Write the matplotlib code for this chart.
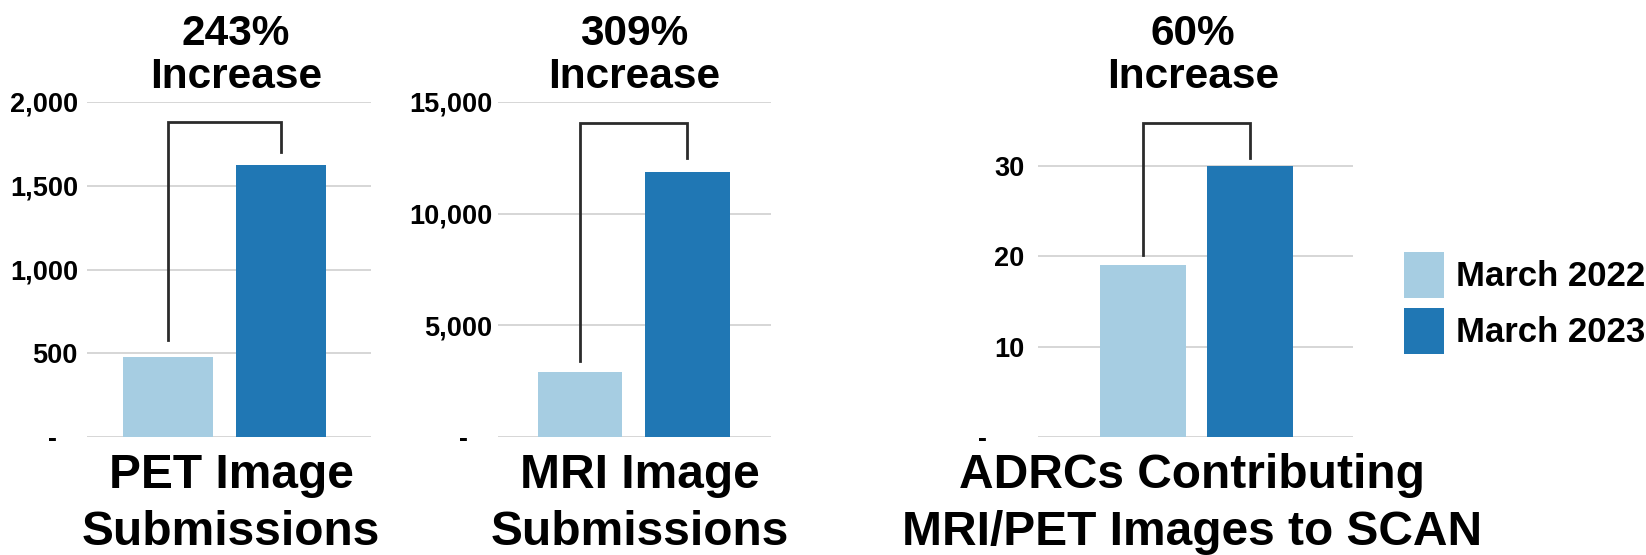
import matplotlib.pyplot as plt
from matplotlib.transforms import ScaledTranslation

plt.rcParams['font.family'] = ['Liberation Sans', 'DejaVu Sans']
plt.rcParams['font.weight'] = 'bold'

#%% data
series = ['March 2022', 'March 2023']
colors = ['#a6cde2', '#2077b4']

pet_vals = [475, 1625]
mri_vals = [2900, 11870]
adrc_vals = [19, 30]

pet_ticks = [0, 500, 1000, 1500, 2000]
pet_ticklabels = ['-', '500', '1,000', '1,500', '2,000']
mri_ticks = [0, 5000, 10000, 15000]
mri_ticklabels = ['-', '5,000', '10,000', '15,000']
adrc_ticks = [0, 10, 20, 30]
adrc_ticklabels = ['-', '10', '20', '30']

# bracket: [left leg end, top, right leg end]
pet_bracket = [580, 1878, 1703]
mri_bracket = [3400, 14060, 12510]
adrc_bracket = [20.1, 34.8, 30.9]

pct_labels = ['243%', '309%', '60%']
cat_labels = [['PET Image', 'Submissions'],
              ['MRI Image', 'Submissions'],
              ['ADRCs Contributing', 'MRI/PET Images to SCAN']]

#%% layout (pixels of a 1646 x 555 canvas)
W, H = 1646, 555
fig = plt.figure(figsize=(W / 100, H / 100), dpi=100)

bot = 1 - 437 / H
hgt = (437 - 102) / H
ax1 = fig.add_axes([87 / W, bot, 284 / W, hgt])
ax2 = fig.add_axes([498 / W, bot, 273 / W, hgt])
ax3 = fig.add_axes([1038 / W, bot, 315 / W, hgt])

panels = [
    (ax1, pet_vals, pet_ticks, pet_ticklabels, pet_bracket, (0, 2000), (-0.714, 1.789), 0.793, 6.5, 21),
    (ax2, mri_vals, mri_ticks, mri_ticklabels, mri_bracket, (0, 15000), (-0.763, 1.777), 0.786, 4.3, 24),
    (ax3, adrc_vals, adrc_ticks, adrc_ticklabels, adrc_bracket, (0, 37.09), (-0.981, 1.963), 0.80, 10, 37),
]

bars = None
for ax, vals, ticks, tlabels, br, ylim, xlim, bw, pad, dash_shift in panels:
    bars = ax.bar([0, 1], vals, width=bw, color=colors, zorder=2)
    ax.plot([0, 0, 1, 1], br[:2] + [br[1], br[2]], color='#2b2b2b', lw=2,
            zorder=3, clip_on=False, solid_joinstyle='miter')
    ax.set_ylim(*ylim)
    ax.set_xlim(*xlim)
    ax.set_yticks(ticks)
    ax.set_yticklabels(tlabels)
    ax.set_xticks([])
    ax.tick_params(axis='y', length=0, pad=pad, labelsize=19.5)
    for t in ticks:
        ax.axhline(t, color='#d3d3d3', lw=1.3, zorder=1)
    for s in ax.spines.values():
        s.set_visible(False)
    # the zero label "-" sits further left than the others
    lab = ax.get_yticklabels()[0]
    lab.set_transform(lab.get_transform() + ScaledTranslation(-dash_shift / 100, 0, fig.dpi_scale_trans))

# titles over each panel
title_x = [236, 634, 1193]
for x, pct in zip(title_x, pct_labels):
    fig.text(x / W, 1 - 45 / H, pct, ha='center', va='baseline', fontsize=30.5, fontweight='bold')
    fig.text(x / W, 1 - 88 / H, 'Increase', ha='center', va='baseline', fontsize=30.5, fontweight='bold')

# category names below each panel
cat_x = [231, 640, 1192]
for x, lines in zip(cat_x, cat_labels):
    fig.text(x / W, 1 - 488 / H, lines[0], ha='center', va='baseline', fontsize=34.5, fontweight='bold')
    fig.text(x / W, 1 - 545 / H, lines[1], ha='center', va='baseline', fontsize=34.5, fontweight='bold')

leg = fig.legend(bars, series, loc='upper left', bbox_to_anchor=(1404 / W, 1 - 252 / H),
                 frameon=False, fontsize=25, handlelength=1.15, handleheight=1.65,
                 handletextpad=0.35, labelspacing=0.3, borderpad=0, borderaxespad=0)
for t in leg.get_texts():
    t.set_fontweight('bold')

plt.savefig('out.png', dpi=100)
